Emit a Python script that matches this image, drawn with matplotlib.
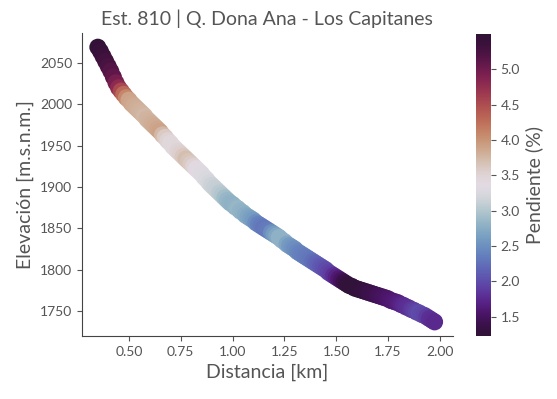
import matplotlib
matplotlib.use("Agg")
import matplotlib.pyplot as plt
import seaborn as sns

# distance along the reach (km), elevation (m.s.n.m.) and slope (%)
distancia = [
    0.3500, 0.3625, 0.3750, 0.3875, 0.4000, 0.4125, 0.4250, 0.4375, 0.4500, 0.4625,
    0.4750, 0.4875, 0.5000, 0.5125, 0.5250, 0.5375, 0.5500, 0.5625, 0.5750, 0.5875,
    0.6000, 0.6125, 0.6250, 0.6375, 0.6500, 0.6625, 0.6750, 0.6875, 0.7000, 0.7125,
    0.7250, 0.7375, 0.7500, 0.7625, 0.7750, 0.7875, 0.8000, 0.8125, 0.8250, 0.8375,
    0.8500, 0.8625, 0.8750, 0.8875, 0.9000, 0.9125, 0.9250, 0.9375, 0.9500, 0.9625,
    0.9750, 0.9875, 1.0000, 1.0125, 1.0250, 1.0375, 1.0500, 1.0625, 1.0750, 1.0875,
    1.1000, 1.1125, 1.1250, 1.1375, 1.1500, 1.1625, 1.1750, 1.1875, 1.2000, 1.2125,
    1.2250, 1.2375, 1.2500, 1.2625, 1.2750, 1.2875, 1.3000, 1.3125, 1.3250, 1.3375,
    1.3500, 1.3625, 1.3750, 1.3875, 1.4000, 1.4125, 1.4250, 1.4375, 1.4500, 1.4625,
    1.4750, 1.4875, 1.5000, 1.5125, 1.5250, 1.5375, 1.5500, 1.5625, 1.5750, 1.5875,
    1.6000, 1.6125, 1.6250, 1.6375, 1.6500, 1.6625, 1.6750, 1.6875, 1.7000, 1.7125,
    1.7250, 1.7375, 1.7500, 1.7625, 1.7750, 1.7875, 1.8000, 1.8125, 1.8250, 1.8375,
    1.8500, 1.8625, 1.8750, 1.8875, 1.9000, 1.9125, 1.9250, 1.9375, 1.9500, 1.9625,
    1.9750,
]
elevacion = [
    2069, 2064, 2058, 2052, 2046, 2040, 2033, 2026, 2020, 2016,
    2012, 2008, 2005, 2001, 1998, 1995, 1992, 1989, 1986, 1982,
    1979, 1976, 1973, 1970, 1967, 1963, 1960, 1956, 1953, 1949,
    1946, 1943, 1940, 1937, 1934, 1931, 1928, 1925, 1922, 1919,
    1916, 1912, 1909, 1905, 1902, 1899, 1896, 1893, 1890, 1887,
    1884, 1881, 1879, 1876, 1874, 1871, 1869, 1866, 1864, 1862,
    1860, 1857, 1855, 1853, 1851, 1849, 1847, 1845, 1843, 1841,
    1839, 1836, 1834, 1831, 1829, 1827, 1825, 1822, 1820, 1818,
    1816, 1814, 1812, 1810, 1808, 1806, 1804, 1802, 1800, 1797,
    1795, 1793, 1791, 1789, 1787, 1785, 1783, 1781, 1780, 1778,
    1777, 1776, 1775, 1774, 1773, 1772, 1771, 1770, 1769, 1768,
    1767, 1766, 1765, 1763, 1762, 1761, 1760, 1758, 1757, 1755,
    1754, 1752, 1751, 1749, 1748, 1746, 1745, 1743, 1741, 1739,
    1737,
]
pendiente = [
    5.45, 5.40, 5.35, 5.30, 5.25, 5.18, 5.10, 4.95, 4.80, 4.55,
    4.30, 4.10, 3.90, 3.88, 3.85, 3.82, 3.80, 3.78, 3.75, 3.78,
    3.80, 3.82, 3.85, 3.88, 3.90, 3.75, 3.60, 3.52, 3.45, 3.45,
    3.45, 3.50, 3.55, 3.62, 3.70, 3.65, 3.60, 3.50, 3.40, 3.35,
    3.30, 3.28, 3.25, 3.20, 3.15, 3.12, 3.10, 3.05, 3.00, 2.92,
    2.85, 2.82, 2.80, 2.82, 2.85, 2.82, 2.80, 2.75, 2.70, 2.65,
    2.60, 2.50, 2.40, 2.35, 2.30, 2.32, 2.35, 2.48, 2.60, 2.70,
    2.80, 2.80, 2.80, 2.70, 2.60, 2.55, 2.50, 2.45, 2.40, 2.38,
    2.35, 2.32, 2.30, 2.25, 2.20, 2.15, 2.10, 2.05, 2.00, 1.95,
    1.90, 1.80, 1.70, 1.60, 1.50, 1.40, 1.30, 1.28, 1.25, 1.25,
    1.25, 1.28, 1.30, 1.32, 1.35, 1.38, 1.40, 1.42, 1.45, 1.48,
    1.50, 1.52, 1.55, 1.58, 1.60, 1.62, 1.65, 1.70, 1.75, 1.78,
    1.80, 1.85, 1.90, 1.95, 2.00, 1.98, 1.95, 1.88, 1.80, 1.78,
    1.75,
]

sns.set_style("ticks")
plt.rcParams["font.family"] = ["Lato", "DejaVu Sans"]
text_color = "#555555"
plt.rcParams["text.color"] = text_color
plt.rcParams["axes.labelcolor"] = text_color
plt.rcParams["xtick.color"] = text_color
plt.rcParams["ytick.color"] = text_color
plt.rcParams["axes.edgecolor"] = "#444444"

fig = plt.figure(figsize=(5.57, 3.99), dpi=100)
ax = fig.add_axes([0.147, 0.158, 0.666, 0.759])
cax = fig.add_axes([0.855, 0.158, 0.026, 0.757])

sc = ax.scatter(distancia, elevacion, c=pendiente, cmap="twilight_shifted",
                vmin=1.23, vmax=5.5, s=150, linewidths=0)
ax.set_xlim(0.273, 2.063)
ax.set_ylim(1720, 2086)
ax.set_xticks([0.5, 0.75, 1.0, 1.25, 1.5, 1.75, 2.0])
ax.set_yticks([1750, 1800, 1850, 1900, 1950, 2000, 2050])
ax.tick_params(labelsize=10)
ax.set_xlabel("Distancia [km]", fontsize=14)
ax.set_ylabel("Elevación [m.s.n.m.]", fontsize=14)
ax.set_title("Est. 810 | Q. Dona Ana - Los Capitanes", fontsize=14)
sns.despine(ax=ax)

cb = fig.colorbar(sc, cax=cax)
cb.outline.set_visible(False)
cb.set_ticks([1.5, 2.0, 2.5, 3.0, 3.5, 4.0, 4.5, 5.0])
cb.ax.tick_params(labelsize=10)
cb.set_label("Pendiente (%)", fontsize=14)

fig.savefig("out.png", dpi=100)
